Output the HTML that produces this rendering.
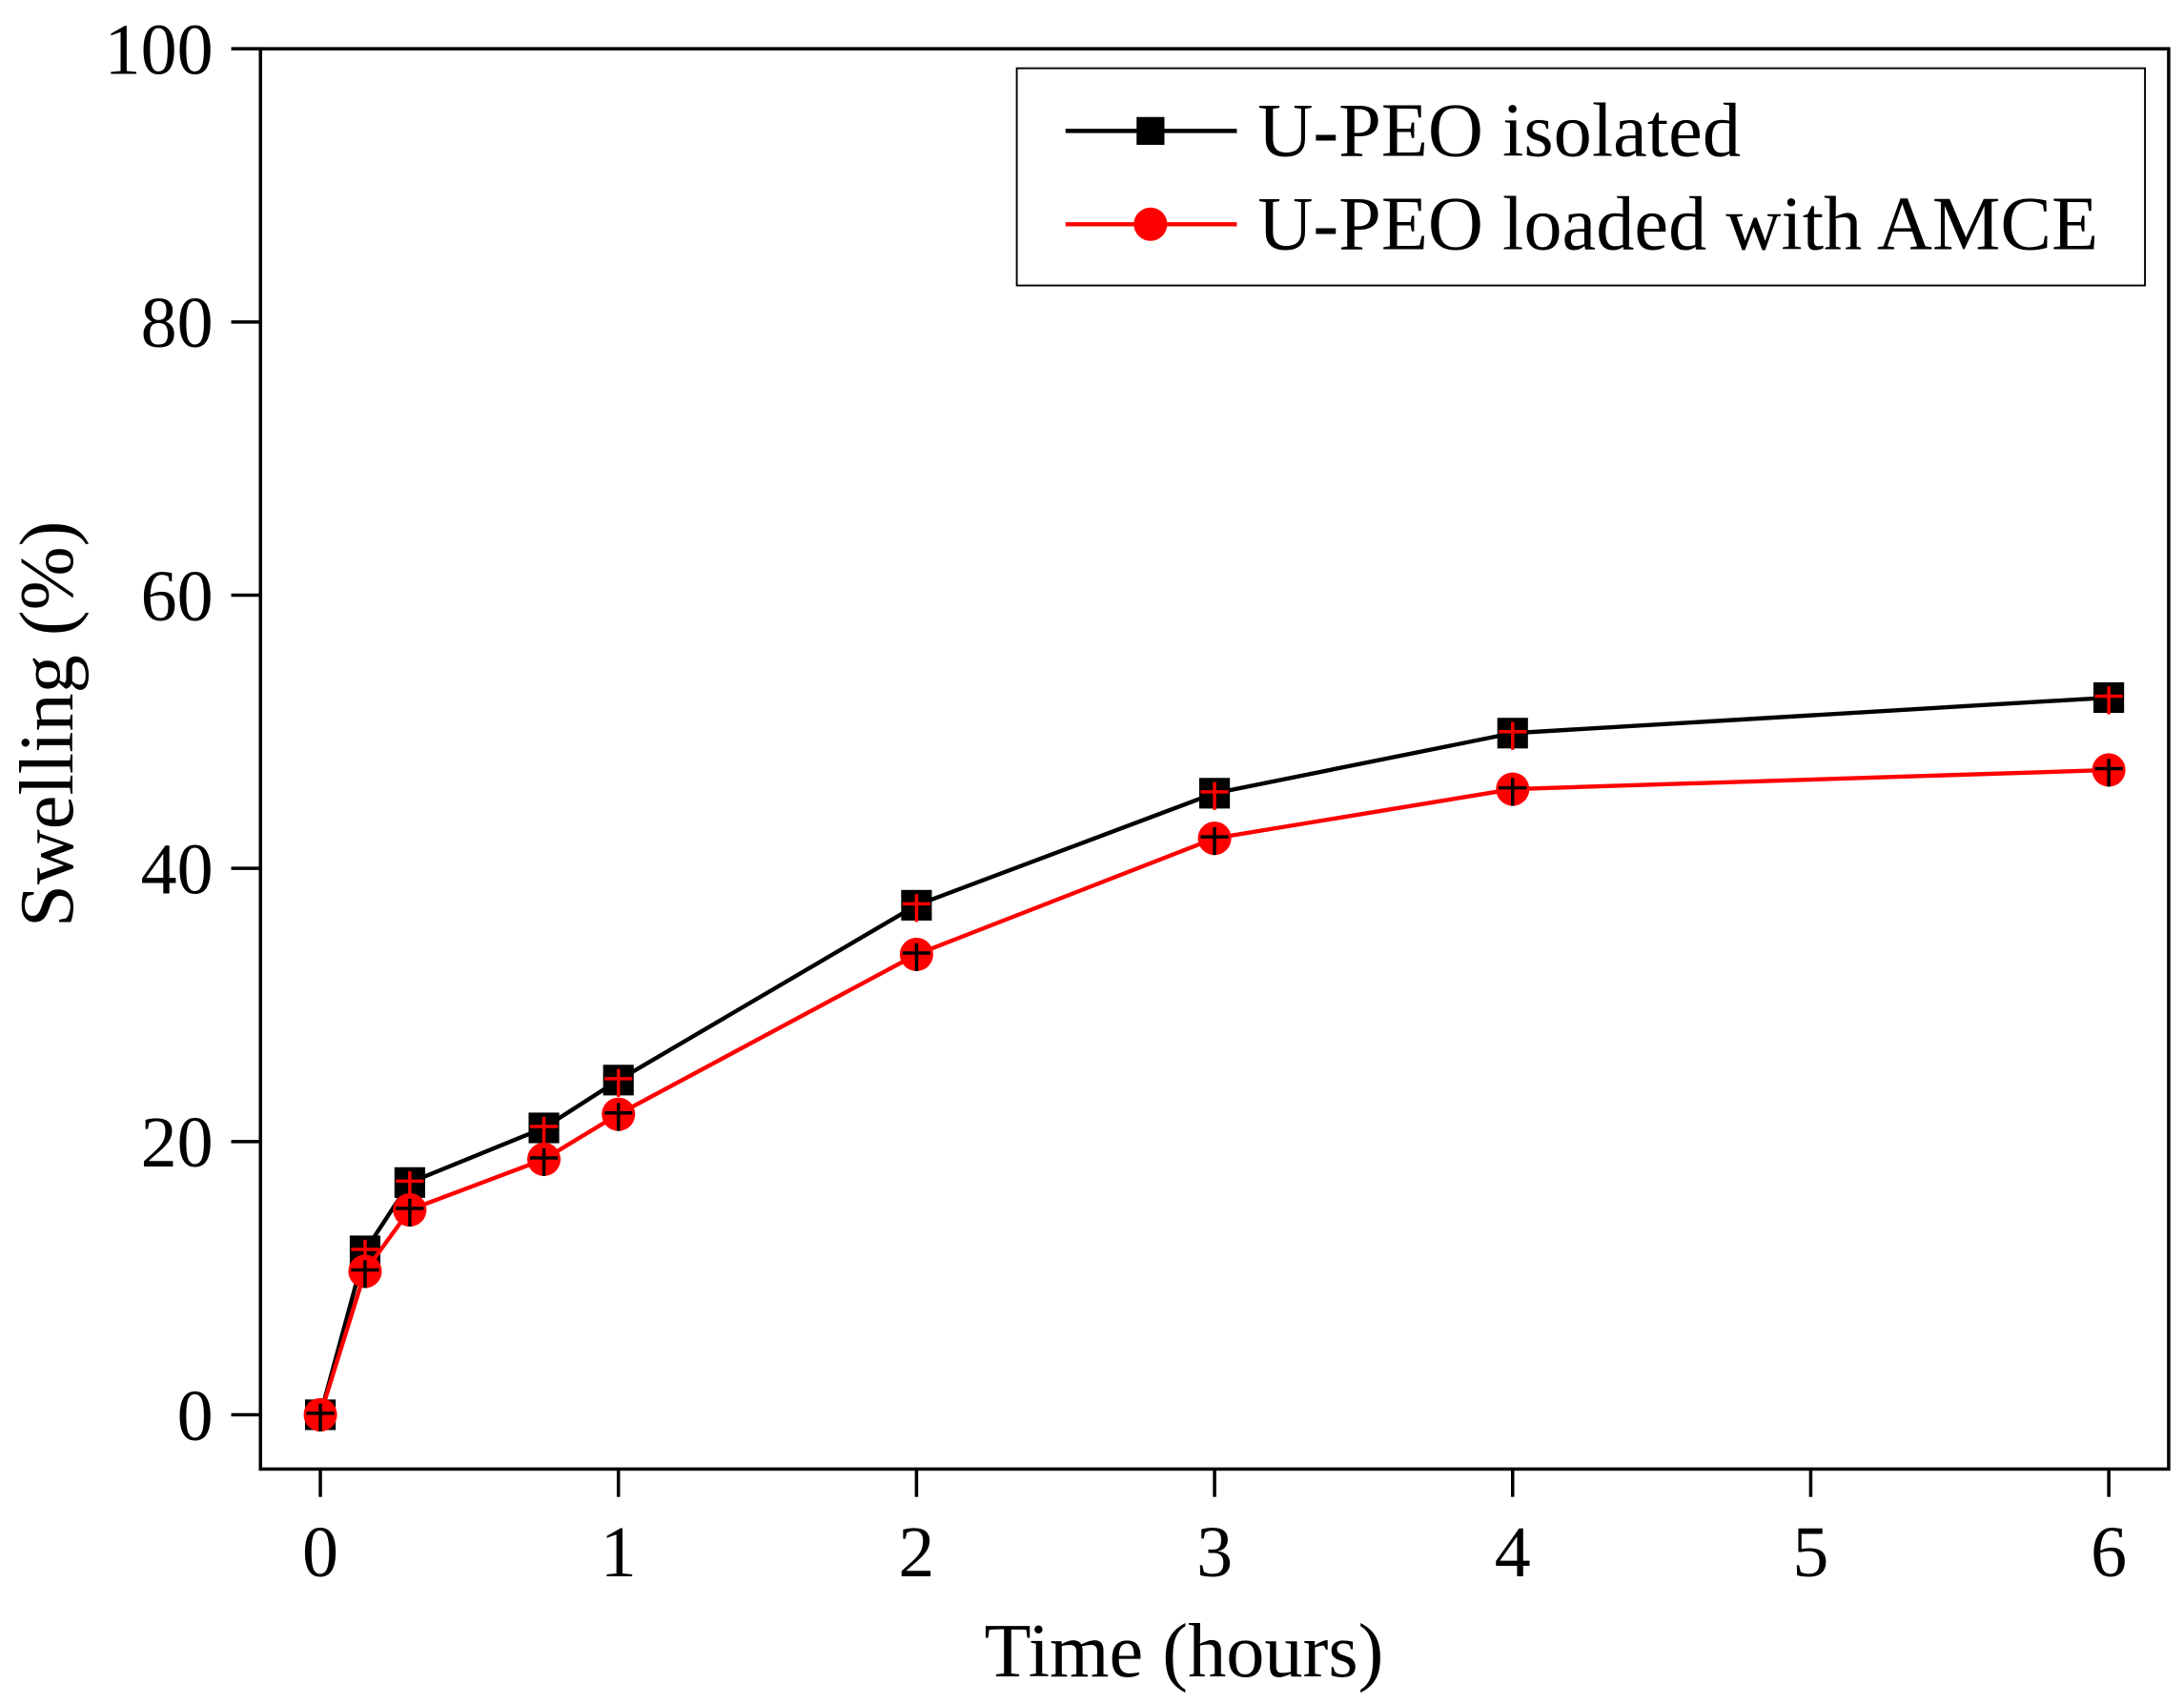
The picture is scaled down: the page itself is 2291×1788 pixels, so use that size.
<!DOCTYPE html>
<html><head><meta charset="utf-8"><style>html,body{margin:0;padding:0;background:#fff}svg{display:block}</style></head>
<body>
<svg id="chart" width="2291" height="1788" viewBox="0 0 1568 1223.7" xmlns="http://www.w3.org/2000/svg" font-family="'Liberation Serif', serif">
<rect x="0" y="0" width="1568" height="1224" fill="#fff"/>
<g id="marks"></g>
<rect x="187" y="35" width="1370" height="1020" fill="none" stroke="#000" stroke-width="2.4"/>
<g id="axes"></g>
<text x="850" y="1204" font-size="55" text-anchor="middle">Time (hours)</text>
<text transform="translate(52,520) rotate(-90)" font-size="55" text-anchor="middle">Swelling (%)</text>
<g>
<rect x="730" y="49" width="810" height="156" fill="#fff" stroke="#000" stroke-width="1.3"/>
<g>
<line x1="765" y1="94" x2="888" y2="94" stroke="#000" stroke-width="3"/>
<rect x="816" y="84" width="20" height="20" fill="#000"/>
<text x="903" y="112" font-size="55">U-PEO isolated</text></g>
<g>
<line x1="765" y1="161" x2="888" y2="161" stroke="#f00" stroke-width="3"/>
<circle cx="826" cy="161" r="12" fill="#f00"/>
<text x="903" y="179" font-size="55">U-PEO loaded with AMCE</text></g>
</g>
<script>
const xValues=[0,0.15,0.3,0.75,1,2,3,4,6];
const isolatedValues=[0,12,17,21,24.5,37.3,45.5,49.9,52.5];
const loadedValues=[0,10.5,15,18.7,22,33.7,42.2,45.8,47.2];
const xTicks=[0,1,2,3,4,5,6];
const yTicks=[0,20,40,60,80,100];
const NS='http://www.w3.org/2000/svg';
function sx(v){return 230+v*214;}
function sy(v){return 1016-v*9.81;}
function mk(tag,attrs,parent){const e=document.createElementNS(NS,tag);for(const k in attrs)e.setAttribute(k,attrs[k]);parent.appendChild(e);return e;}
const axes=document.getElementById('axes'),marks=document.getElementById('marks');
xTicks.forEach(t=>{
 const l=mk('line',{x1:sx(t),y1:1055,x2:sx(t),y2:1075,stroke:'#000','stroke-width':2.4},axes);
 
 
 const tx=mk('text',{x:sx(t),y:1132,'font-size':52,'text-anchor':'middle'},axes);tx.textContent=t;
 
 
});
yTicks.forEach(t=>{
 const l=mk('line',{x1:166,y1:sy(t),x2:187,y2:sy(t),stroke:'#000','stroke-width':2.4},axes);
 
 
 const tx=mk('text',{x:153,y:sy(t)+18,'font-size':52,'text-anchor':'end'},axes);tx.textContent=t;
 
 
});
function series(vals,color,name,shape,errColor){
 const pts=xValues.map((x,i)=>sx(x)+','+sy(vals[i])).join(' ');
 const pl=mk('polyline',{points:pts,fill:'none',stroke:color,'stroke-width':3},marks);
 
 
 xValues.forEach((x,i)=>{
  const cx=sx(x),cy=sy(vals[i]);let m;
  if(shape==='square')m=mk('rect',{x:cx-11,y:cy-11,width:22,height:22,fill:color},marks);
  else m=mk('circle',{cx:cx,cy:cy,r:12,fill:color},marks);
  
  
 });
 return ()=>xValues.forEach((x,i)=>{
  const cx=sx(x),cy=sy(vals[i]);
  const g=mk('g',{stroke:errColor,'stroke-width':2.4},marks);
  
  
  mk('line',{x1:cx,y1:cy-8,x2:cx,y2:cy+12},g);
  mk('line',{x1:cx-10,y1:cy-1,x2:cx+10,y2:cy-1},g);
 });
}
const e1=series(isolatedValues,'#000','isolated','square','#f00');
const e2=series(loadedValues,'#f00','loaded','circle','#000');
e1();e2();
</script>
</svg>
</body></html>
